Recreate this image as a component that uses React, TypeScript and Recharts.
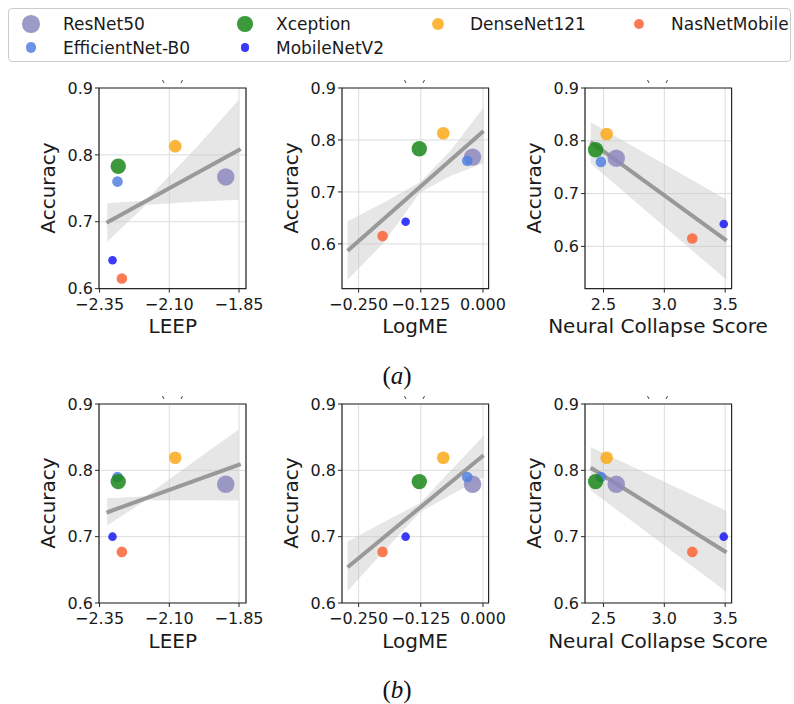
import React from 'react';
import { ComposedChart, Scatter, Line, Area, XAxis, YAxis, CartesianGrid, ReferenceArea } from 'recharts';

// draw order (matplotlib legend is column-major)
const models = ['ResNet50', 'EfficientNet-B0', 'Xception', 'MobileNetV2', 'DenseNet121', 'NasNetMobile'];
const leep = [-1.8975, -2.2857, -2.283, -2.3036, -2.0786, -2.27];
const logme = [-0.0209, -0.0316, -0.128, -0.1555, -0.0798, -0.2018];
const ncScore = [2.605, 2.479, 2.435, 3.4885, 2.526, 3.23];
const accA = [0.767, 0.76, 0.783, 0.6425, 0.813, 0.615];
const accB = [0.779, 0.79, 0.783, 0.7, 0.819, 0.677];

// regression lines
const fitXLeep = [-2.325, -1.844];
const fitXLogme = [-0.2721, 0.0012];
const fitXNc = [2.394, 3.512];
const fitYLeepA = [0.6986, 0.8086];
const fitYLogmeA = [0.587, 0.8174];
const fitYNcA = [0.798, 0.6108];
const fitYLeepB = [0.7364, 0.8095];
const fitYLogmeB = [0.654, 0.8227];
const fitYNcB = [0.804, 0.6762];

// confidence bands
const bandXLeep = [-2.3225, -2.1843, -1.994, -1.851];
const bandLoLeepA = [0.6702, 0.7252, 0.7301, 0.7327];
const bandHiLeepA = [0.7276, 0.7312, 0.8151, 0.8826];
const bandLoLeepB = [0.7167, 0.755, 0.755, 0.7545];
const bandHiLeepB = [0.758, 0.761, 0.8186, 0.8616];
const bandXLogme = [-0.2721, -0.1998, -0.126, -0.0657, 0.0012];
const bandLoLogmeA = [0.5311, 0.6018, 0.6996, 0.7305, 0.755];
const bandHiLogmeA = [0.6436, 0.679, 0.7189, 0.7788, 0.8624];
const bandLoLogmeB = [0.6182, 0.6777, 0.7373, 0.7626, 0.7898];
const bandHiLogmeB = [0.6929, 0.7217, 0.7509, 0.799, 0.852];
const bandXNc = [2.394, 3.51];
const bandLoNcA = [0.7575, 0.5366];
const bandHiNcA = [0.8349, 0.689];
const bandLoNcB = [0.77, 0.617];
const bandHiNcB = [0.835, 0.7388];

const leepTicks = [-2.35, -2.1, -1.85];
const logmeTicks = [-0.25, -0.125, 0];
const ncTicks = [2.5, 3.0, 3.5];
const accTicks = [0.6, 0.7, 0.8, 0.9];

const colors = ['#8d88be', '#5280e1', '#1a881a', '#1818f6', '#fda91a', '#fa6536'];
const radii = [8.7, 5.3, 7.7, 4.3, 6.3, 5.3];

const COL_L = [99.3, 341.7, 584.7];
const COL_R = [246.3, 488.3, 731.3];
const ROW_T = [87.7, 403.5];
const ROW_B = [288.3, 602.5];

const FONT = '"DejaVu Sans", sans-serif';
const minus = (s: string) => s.replace('-', '\u2212');
const fmtLeep = (v: number) => minus(v.toFixed(2));
const fmtLogme = (v: number) => minus(v.toFixed(3));
const fmtNc = (v: number) => v.toFixed(1);
const fmtAcc = (v: number) => v.toFixed(1);

const tickStyle = { fontSize: 16, fill: '#1a1a1a', fontFamily: FONT };

type PanelProps = {
  col: number; row: number; xs: number[]; acc: number[];
  xDomain: [number, number]; yDomain: [number, number];
  xTicks: number[]; fmt: (v: number) => string;
  fitX: number[]; fitY: number[];
  bandX: number[]; bandLo: number[]; bandHi: number[];
  xLabel: string;
};

function Panel(p: PanelProps) {
  const x0 = COL_L[p.col], x1 = COL_R[p.col], y0 = ROW_T[p.row], y1 = ROW_B[p.row];
  const plotW = x1 - x0, plotH = y1 - y0;
  const YW = 70, XH = 30, MT = 10, MR = 34;
  const fitData = p.fitX.map((x, i) => ({ x, y: p.fitY[i] }));
  const bandData = p.bandX.map((x, i) => ({ x, band: [p.bandLo[i], p.bandHi[i]] }));
  const cx = (x0 + x1) / 2;
  const cy = (y0 + y1) / 2;
  return (
    <>
      <div style={{ position: 'absolute', left: x0 - YW, top: y0 - MT }}>
        <ComposedChart width={YW + plotW + MR} height={MT + plotH + XH} margin={{ top: MT, right: MR, bottom: 0, left: 0 }}>
          <CartesianGrid stroke="#dcdcdc" strokeWidth={1} />
          <XAxis type="number" dataKey="x" domain={p.xDomain} ticks={p.xTicks} allowDataOverflow interval={0}
            tickFormatter={p.fmt} height={XH} axisLine={false} tickSize={4} tickMargin={6}
            tickLine={{ stroke: '#262626' }} tick={tickStyle} />
          <YAxis type="number" dataKey="y" domain={p.yDomain} ticks={accTicks} allowDataOverflow interval={0}
            tickFormatter={fmtAcc} width={YW} axisLine={false} tickSize={4} tickMargin={2}
            tickLine={{ stroke: '#262626' }} tick={tickStyle} />
          <Area data={bandData} dataKey="band" type="linear" stroke="none" fill="#c8c8c8" fillOpacity={0.45} isAnimationActive={false} />
          <Line data={fitData} dataKey="y" type="linear" stroke="#999999" strokeWidth={4} dot={false} isAnimationActive={false} />
          {models.map((m, i) => (
            <Scatter key={m} name={m} data={[{ x: p.xs[i], y: p.acc[i] }]} dataKey="y" fill={colors[i]} isAnimationActive={false}
              shape={(s: any) => <circle cx={s.cx} cy={s.cy} r={radii[i]} fill={colors[i]} fillOpacity={0.85} />} />
          ))}
          <ReferenceArea x1={p.xDomain[0]} x2={p.xDomain[1]} y1={p.yDomain[0]} y2={p.yDomain[1]}
            fill="none" stroke="#262626" strokeWidth={1.2} ifOverflow="visible" />
        </ComposedChart>
      </div>
      <div style={{ position: 'absolute', left: x0 - 51 - 60, top: cy - 10, width: 120, lineHeight: '20px', fontSize: 20,
        textAlign: 'center', transform: 'rotate(-90deg)', fontFamily: FONT, color: '#1a1a1a' }}>Accuracy</div>
      <div style={{ position: 'absolute', left: cx - 120, top: y1 + 38 - 10, width: 240, lineHeight: '20px', fontSize: 20,
        textAlign: 'center', fontFamily: FONT, color: '#1a1a1a' }}>{p.xLabel}</div>
      <svg style={{ position: 'absolute', left: cx - 12, top: y0 - 9 }} width={24} height={6}>
        <line x1={1.5} y1={1} x2={3} y2={4} stroke="#444" strokeWidth={1} />
        <line x1={21.5} y1={1} x2={20} y2={4} stroke="#444" strokeWidth={1} />
      </svg>
    </>
  );
}

const legendRows = [
  [0, 2, 4, 5],
  [1, 3],
];
const legendX = [31, 245, 438, 639];
const legendTextX = [63, 276, 470, 671];
const legendY = [24, 47.5];

function Legend() {
  return (
    <div style={{ position: 'absolute', left: 0, top: 0 }}>
      <div style={{ position: 'absolute', left: 8, top: 8, width: 783, height: 54, border: '1px solid #cccccc', borderRadius: 4, boxSizing: 'border-box' }} />
      {legendRows.map((row, r) => row.map((mi, c) => (
        <React.Fragment key={models[mi]}>
          <div style={{ position: 'absolute', left: legendX[c] - radii[mi], top: legendY[r] - radii[mi], width: radii[mi] * 2, height: radii[mi] * 2,
            borderRadius: '50%', background: colors[mi], opacity: 0.85 }} />
          <div style={{ position: 'absolute', left: legendTextX[c], top: legendY[r] - 10, lineHeight: '20px', fontSize: 17,
            fontFamily: FONT, color: '#1a1a1a', whiteSpace: 'nowrap' }}>{models[mi]}</div>
        </React.Fragment>
      )))}
    </div>
  );
}

export default function App() {
  const capStyle: React.CSSProperties = { position: 'absolute', left: 347, width: 100, textAlign: 'center', fontSize: 25,
    lineHeight: '28px', fontFamily: '"Liberation Serif", serif', color: '#111' };
  return (
    <div style={{ position: 'fixed', left: 0, top: 0, width: 794, height: 704, background: '#fff', overflow: 'hidden' }}>
      <Legend />
      <Panel col={0} row={0} xs={leep} acc={accA} xDomain={[-2.352, -1.825]} yDomain={[0.6, 0.9]} xTicks={leepTicks} fmt={fmtLeep}
        fitX={fitXLeep} fitY={fitYLeepA} bandX={bandXLeep} bandLo={bandLoLeepA} bandHi={bandHiLeepA} xLabel="LEEP" />
      <Panel col={1} row={0} xs={logme} acc={accA} xDomain={[-0.2834, 0.0113]} yDomain={[0.514, 0.9]} xTicks={logmeTicks} fmt={fmtLogme}
        fitX={fitXLogme} fitY={fitYLogmeA} bandX={bandXLogme} bandLo={bandLoLogmeA} bandHi={bandHiLogmeA} xLabel="LogME" />
      <Panel col={2} row={0} xs={ncScore} acc={accA} xDomain={[2.348, 3.553]} yDomain={[0.52, 0.9]} xTicks={ncTicks} fmt={fmtNc}
        fitX={fitXNc} fitY={fitYNcA} bandX={bandXNc} bandLo={bandLoNcA} bandHi={bandHiNcA} xLabel="Neural Collapse Score" />
      <Panel col={0} row={1} xs={leep} acc={accB} xDomain={[-2.352, -1.825]} yDomain={[0.6, 0.9]} xTicks={leepTicks} fmt={fmtLeep}
        fitX={fitXLeep} fitY={fitYLeepB} bandX={bandXLeep} bandLo={bandLoLeepB} bandHi={bandHiLeepB} xLabel="LEEP" />
      <Panel col={1} row={1} xs={logme} acc={accB} xDomain={[-0.2834, 0.0113]} yDomain={[0.6, 0.9]} xTicks={logmeTicks} fmt={fmtLogme}
        fitX={fitXLogme} fitY={fitYLogmeB} bandX={bandXLogme} bandLo={bandLoLogmeB} bandHi={bandHiLogmeB} xLabel="LogME" />
      <Panel col={2} row={1} xs={ncScore} acc={accB} xDomain={[2.348, 3.553]} yDomain={[0.6, 0.9]} xTicks={ncTicks} fmt={fmtNc}
        fitX={fitXNc} fitY={fitYNcB} bandX={bandXNc} bandLo={bandLoNcB} bandHi={bandHiNcB} xLabel="Neural Collapse Score" />
      <div style={{ ...capStyle, top: 362 }}>(<i>a</i>)</div>
      <div style={{ ...capStyle, top: 676 }}>(<i>b</i>)</div>
    </div>
  );
}
